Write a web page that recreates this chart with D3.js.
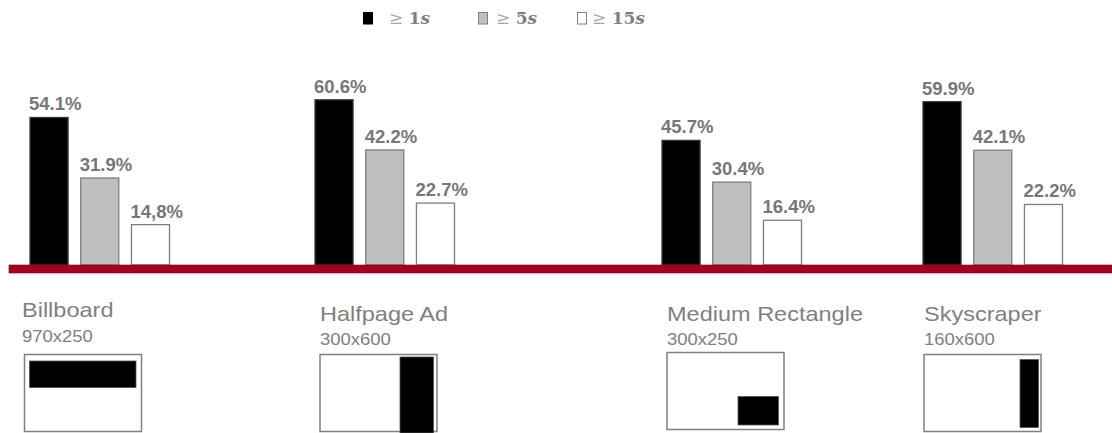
<!DOCTYPE html>
<html>
<head>
<meta charset="utf-8">
<script src="https://cdn.jsdelivr.net/npm/d3@7"></script>
<style>
  html, body { margin: 0; padding: 0; background: #fff; }
  svg { display: block; }
</style>
</head>
<body>
<script>
// ---------------- DATA ----------------
const categories = ["Billboard", "Halfpage Ad", "Medium Rectangle", "Skyscraper"];
const adSizes = ["970x250", "300x600", "300x250", "160x600"];
const seriesKeys = ["s1", "s5", "s15"];
const seriesNums = ["1", "5", "15"];           // legend: ≥ 1s, ≥ 5s, ≥ 15s
const values1s = [54.1, 60.6, 45.7, 59.9];
const values5s = [31.9, 42.2, 30.4, 42.1];
const values15s = [14.8, 22.7, 16.4, 22.2];
const labels1s = ["54.1%", "60.6%", "45.7%", "59.9%"];
const labels5s = ["31.9%", "42.2%", "30.4%", "42.1%"];
const labels15s = ["14,8%", "22.7%", "16.4%", "22.2%"];

// ---------------- LAYOUT / STYLE ----------------
const W = 1112, H = 433;
const baseY = 265;
const groupLeft = [30, 315, 662, 923];       // irregular group placement as in the original slide
const panelLeft = [22, 320, 667, 924];
const legendSymX = [363, 478, 577];
const legendTxtX = [389, 496, 592];
const fills = { s1: "#000000", s5: "#bfbfbf", s15: "#ffffff" };
const strokes = { s1: "#3a3a3a", s5: "#7f7f7f", s15: "#7f7f7f" };
// thumbnail icons (relative positions inside each preview box)
const icons = [
  { x: 5, y: 6.5, w: 106.5, h: 26.5 },
  { x: 80, y: 2.5, w: 33.5, h: 76 },
  { x: 71, y: 44, w: 40.5, h: 28.5 },
  { x: 96, y: 5, w: 18.5, h: 68 }
];

const rows = categories.map((c, i) => ({
  cat: c, size: adSizes[i],
  s1: values1s[i], s5: values5s[i], s15: values15s[i],
  l1: labels1s[i], l5: labels5s[i], l15: labels15s[i]
}));
const labelKey = { s1: "l1", s5: "l5", s15: "l15" };

const svg = d3.select("body").append("svg").attr("width", W).attr("height", H);

const x0 = d3.scaleOrdinal().domain(categories).range(groupLeft);
const x1 = d3.scaleBand().domain(seriesKeys).range([0, 139.5]).paddingInner(0.25).paddingOuter(0);
const y = d3.scaleLinear().domain([0, 60]).range([baseY, baseY - 163.6]);
const px = d3.scaleOrdinal().domain(categories).range(panelLeft);

// ---------------- LEGEND ----------------
const leg = svg.append("g").selectAll("g").data(seriesKeys).join("g");
leg.append("rect")
  .attr("x", (d, i) => legendSymX[i] + 0.5)
  .attr("y", 12.5)
  .attr("width", 9).attr("height", 11.5)
  .attr("fill", d => fills[d])
  .attr("stroke", d => d === "s1" ? "#000" : "#7f7f7f")
  .attr("stroke-width", 1);
const lt = leg.append("text")
  .attr("x", (d, i) => legendTxtX[i])
  .attr("y", 24)
  .attr("font-family", "'DejaVu Serif', 'Liberation Serif', serif")
  .attr("font-size", 17);
lt.append("tspan").attr("fill", "#a6a6a6").text("≥ ");
lt.append("tspan").attr("fill", "#7f7f7f").attr("font-weight", "bold").text((d, i) => seriesNums[i]);
lt.append("tspan").attr("fill", "#7f7f7f").attr("font-weight", "bold").attr("font-style", "italic").text("s");

// ---------------- BARS ----------------
const groups = svg.append("g").selectAll("g").data(rows).join("g")
  .attr("transform", d => `translate(${x0(d.cat)},0)`);

groups.selectAll("rect.bar")
  .data(d => seriesKeys.map(k => ({ key: k, value: d[k], label: d[labelKey[k]] })))
  .join("rect")
  .attr("class", "bar")
  .attr("x", d => x1(d.key))
  .attr("y", d => y(d.value))
  .attr("width", x1.bandwidth())
  .attr("height", d => baseY - y(d.value))
  .attr("fill", d => fills[d.key])
  .attr("stroke", d => strokes[d.key])
  .attr("stroke-width", 1.3);

groups.selectAll("text.val")
  .data(d => seriesKeys.map(k => ({ key: k, value: d[k], label: d[labelKey[k]] })))
  .join("text")
  .attr("class", "val")
  .attr("x", d => x1(d.key) - 1)
  .attr("y", d => y(d.value) - 7)
  .attr("font-family", "'Liberation Sans', Arial, sans-serif")
  .attr("font-weight", "bold")
  .attr("font-size", 18.5)
  .attr("fill", "#777777")
  .text(d => d.label);

// ---------------- BASELINE (red band) ----------------
svg.append("rect")
  .attr("x", 9).attr("y", baseY)
  .attr("width", W - 9).attr("height", 8)
  .attr("fill", "#a50021")
  .attr("stroke", "#7a0018").attr("stroke-width", 0.6);

// ---------------- PANELS ----------------
const panels = svg.append("g").selectAll("g").data(rows).join("g")
  .attr("transform", d => `translate(${px(d.cat)},0)`);

panels.append("text")
  .attr("transform", (d, i) => `translate(0,${i === 0 ? 317 : 320.5}) scale(1.12,1)`)
  .attr("font-family", "'Liberation Sans', Arial, sans-serif")
  .attr("font-size", 21)
  .attr("fill", "#808080")
  .text(d => d.cat);

panels.append("text")
  .attr("transform", (d, i) => `translate(0,${i === 0 ? 342 : 344.5}) scale(1.12,1)`)
  .attr("font-family", "'Liberation Sans', Arial, sans-serif")
  .attr("font-size", 16.5)
  .attr("fill", "#808080")
  .text(d => d.size);

panels.append("rect")
  .attr("x", (d, i) => i === 0 ? 2.5 : 0)
  .attr("y", (d, i) => i === 2 ? 352.5 : 354.5)
  .attr("width", 117)
  .attr("height", 77)
  .attr("fill", "#fff")
  .attr("stroke", "#808080")
  .attr("stroke-width", 1.5);

panels.append("rect")
  .attr("x", (d, i) => (i === 0 ? 2.5 : 0) + icons[i].x)
  .attr("y", (d, i) => (i === 2 ? 352.5 : 354.5) + icons[i].y)
  .attr("width", (d, i) => icons[i].w)
  .attr("height", (d, i) => icons[i].h)
  .attr("fill", "#000")
  .attr("stroke", "#555")
  .attr("stroke-width", 0.8);
</script>
</body>
</html>
